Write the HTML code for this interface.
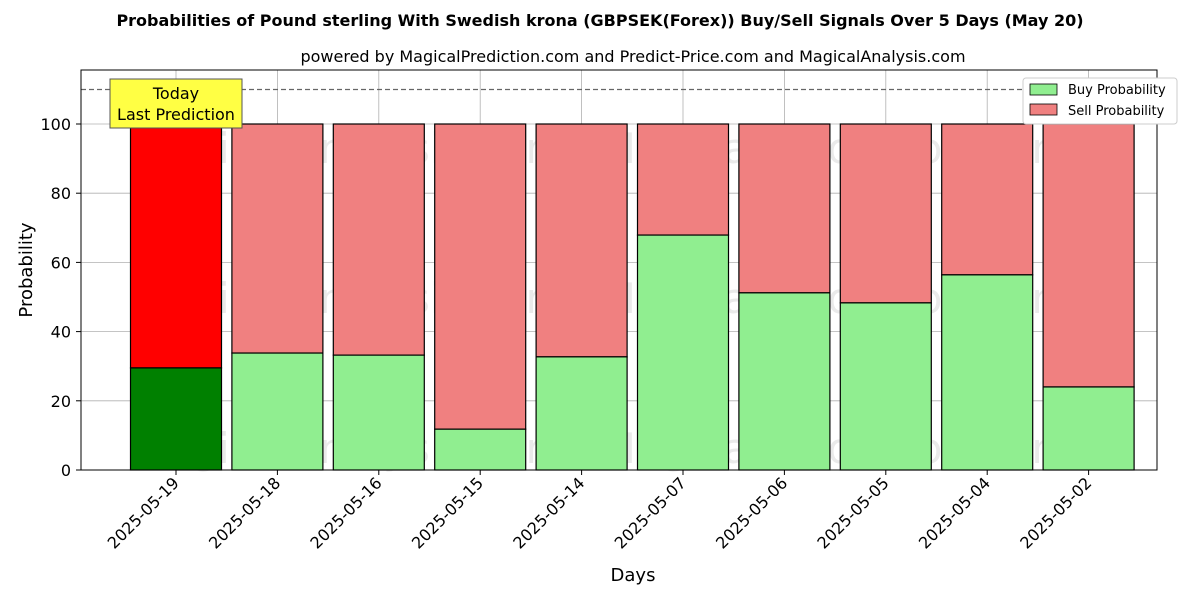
<!DOCTYPE html>
<html><head><meta charset="utf-8"><style>
body{margin:0;background:#fff;font-family:"Liberation Sans","DejaVu Sans",sans-serif;}
svg text{font-family:"DejaVu Sans","Liberation Sans",sans-serif;}
</style></head><body>
<svg id="chart" width="1200" height="600" xmlns="http://www.w3.org/2000/svg">
<text x="600" y="26" text-anchor="middle" font-size="16" font-weight="bold">Probabilities of Pound sterling With Swedish krona (GBPSEK(Forex)) Buy/Sell Signals Over 5 Days (May 20)</text>
<text x="633" y="62" text-anchor="middle" font-size="16">powered by MagicalPrediction.com and Predict-Price.com and MagicalAnalysis.com</text>
<g id="watermarks" fill="#000" opacity="0.08" font-size="42">
<text x="348" y="163" text-anchor="middle">MagicalAnalysis.com</text>
<text x="836" y="163" text-anchor="middle">MagicalPrediction.com</text>
<text x="348" y="313" text-anchor="middle">MagicalAnalysis.com</text>
<text x="836" y="313" text-anchor="middle">MagicalPrediction.com</text>
<text x="348" y="463" text-anchor="middle">MagicalAnalysis.com</text>
<text x="836" y="463" text-anchor="middle">MagicalPrediction.com</text>
</g>
<g id="grid"></g>
<g id="bars"></g>
<line x1="81" y1="89.5" x2="1157" y2="89.5" stroke="#666" stroke-dasharray="5,3" stroke-width="1.2"/>
<rect x="81" y="70" width="1076" height="400" fill="none" stroke="#000" stroke-width="1"/>
<g id="axes"></g>
<g>
<rect x="110" y="79" width="132" height="49" fill="#ffff44" stroke="#555" stroke-width="1"/>
<text x="176" y="99" text-anchor="middle" font-size="16">Today</text>
<text x="176" y="120" text-anchor="middle" font-size="16">Last Prediction</text>
</g>
<g>
<rect x="1023" y="78" width="154" height="46" fill="#fff" stroke="#ccc" rx="3"/>
<rect x="1030" y="84" width="27" height="11" fill="#90ee90" stroke="#000" stroke-width="0.8"/>
<text x="1068" y="94" font-size="13">Buy Probability</text>
<rect x="1030" y="104" width="27" height="11" fill="#f08080" stroke="#000" stroke-width="0.8"/>
<text x="1068" y="115" font-size="13">Sell Probability</text>
</g>
<text x="633" y="581" text-anchor="middle" font-size="18">Days</text>
<text transform="translate(32,270) rotate(-90)" text-anchor="middle" font-size="18">Probability</text>
</svg>
<script>
const categories=["2025-05-19","2025-05-18","2025-05-16","2025-05-15","2025-05-14","2025-05-07","2025-05-06","2025-05-05","2025-05-04","2025-05-02"];
const buyValues=[29.5,33.8,33.2,11.8,32.7,67.9,51.2,48.3,56.4,24.0];
const yTicks=[0,20,40,60,80,100];
const NS="http://www.w3.org/2000/svg";
const y=v=>470-v*3.46;
const xc=i=>176+i*101.4;
const bw=91;
function mk(t,a,p){const e=document.createElementNS(NS,t);for(const k in a)e.setAttribute(k,a[k]);p.appendChild(e);return e;}
const grid=document.getElementById('grid'),bars=document.getElementById('bars'),axes=document.getElementById('axes');
yTicks.forEach(t=>{
 const gl=mk('line',{x1:81,x2:1157,y1:y(t),y2:y(t),stroke:'#b0b0b0','stroke-width':0.8},grid);
 
 
 mk('line',{x1:76,x2:81,y1:y(t),y2:y(t),stroke:'#000'},axes);
 const tx=mk('text',{x:71,y:y(t)+6,'text-anchor':'end','font-size':16},axes);
 tx.textContent=t;
 
 
});
categories.forEach((c,i)=>{
 const x=xc(i);
 const gl=mk('line',{x1:x,x2:x,y1:70,y2:470,stroke:'#b0b0b0','stroke-width':0.8},grid);
 
 
 const b=buyValues[i];
 const sell=mk('rect',{x:x-bw/2,y:y(100),width:bw,height:y(b)-y(100),fill:i==0?'#ff0000':'#f08080',stroke:'#000','stroke-width':1.2},bars);
 
 
 const buy=mk('rect',{x:x-bw/2,y:y(b),width:bw,height:470-y(b),fill:i==0?'#008000':'#90ee90',stroke:'#000','stroke-width':1.2},bars);
 
 
 mk('line',{x1:x,x2:x,y1:470,y2:475,stroke:'#000'},axes);
 const tx=mk('text',{x:x+4,y:484,'text-anchor':'end','font-size':16,transform:`rotate(-45 ${x+4} 484)`},axes);
 tx.textContent=c;
 
 
});
</script>
</body></html>
